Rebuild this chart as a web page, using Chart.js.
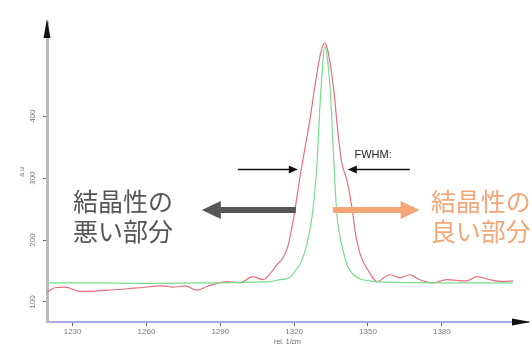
<!DOCTYPE html>
<html>
<head>
<meta charset="utf-8">
<script src="https://cdn.jsdelivr.net/npm/chart.js@4"></script>
<style>
  body { margin: 0; background: #fff; }
  canvas { display: block; }
</style>
</head>
<body>
<canvas id="ramanChart" width="532" height="354"></canvas>
<script>
// Raman shift (rel. 1/cm) and intensity (a.u)
const redShift  = [1219.6, 1222.8, 1226.9, 1233.0, 1243.9, 1251.2, 1257.3, 1266.7, 1270.7, 1275.6, 1280.5, 1284.5, 1292.7, 1298.0, 1303.2, 1307.3, 1310.1, 1313.0, 1315.4, 1317.4, 1319.0, 1320.3, 1322.3, 1323.9, 1326.4, 1328.8, 1330.8, 1332.4, 1333.6, 1336.1, 1337.7, 1339.3, 1341.4, 1342.6, 1343.8, 1345.0, 1346.7, 1348.7, 1350.7, 1353.6, 1358.8, 1362.9, 1367.0, 1371.0, 1376.3, 1382.0, 1390.1, 1394.2, 1399.5, 1404.8, 1408.9];
const redCounts = [116, 123, 124, 117, 119, 121, 123, 126, 124, 126, 119, 125, 133, 131, 141, 136, 145, 160, 171, 189, 219, 248, 300, 337, 394, 458, 502, 518, 507, 442, 377, 326, 297, 273, 244, 208, 179, 160, 147, 133, 144, 139, 144, 136, 131, 136, 134, 141, 136, 133, 134];

const greenShift  = [1219.6, 1240.0, 1260.0, 1281.8, 1289.9, 1302.0, 1310.1, 1314.2, 1318.3, 1320.7, 1322.3, 1324.3, 1326.0, 1327.6, 1328.8, 1329.6, 1330.4, 1331.3, 1332.4, 1333.6, 1334.9, 1335.7, 1336.5, 1337.3, 1338.5, 1339.8, 1341.8, 1345.5, 1350.7, 1358.8, 1380.0, 1400.0, 1408.9];
const greenCounts = [131, 131, 130, 131, 131, 132, 133, 136, 140, 152, 160, 181, 208, 248, 297, 345, 410, 466, 513, 490, 426, 361, 297, 244, 208, 184, 157, 140, 134, 132, 131, 131, 131];

const xTicks = [1230, 1260, 1290, 1320, 1350, 1380];
const yTicks = [100, 200, 300, 400];

const toPoints = (xs, ys) => xs.map((v, i) => ({ x: v, y: ys[i] }));

// arrows, text and axis heads drawn on top of the chart
const overlay = {
    id: 'overlay',
    afterDraw(chart) {
        const ctx = chart.ctx;
        const a = chart.chartArea;
        const x = chart.scales.x;
        const y = chart.scales.y;
        ctx.save();

        // axis arrow heads
        ctx.fillStyle = '#111';
        ctx.beginPath();
        ctx.moveTo(a.left, a.top - 3);
        ctx.lineTo(a.left - 3.5, a.top + 16);
        ctx.lineTo(a.left + 3.5, a.top + 16);
        ctx.fill();
        ctx.beginPath();
        ctx.moveTo(a.right + 3, a.bottom);
        ctx.lineTo(a.right - 16, a.bottom - 3.5);
        ctx.lineTo(a.right - 16, a.bottom + 3.5);
        ctx.fill();

        function arrow(x0, x1, yv, color, width, head, headW) {
            const px0 = x.getPixelForValue(x0);
            const px1 = x.getPixelForValue(x1);
            const py = y.getPixelForValue(yv);
            const dir = px1 > px0 ? 1 : -1;
            ctx.strokeStyle = color;
            ctx.fillStyle = color;
            ctx.lineWidth = width;
            ctx.beginPath();
            ctx.moveTo(px0, py);
            ctx.lineTo(px1 - dir * head * 0.8, py);
            ctx.stroke();
            ctx.beginPath();
            ctx.moveTo(px1, py);
            ctx.lineTo(px1 - dir * head, py - headW);
            ctx.lineTo(px1 - dir * head, py + headW);
            ctx.closePath();
            ctx.fill();
        }

        // FWHM markers
        arrow(1297.1, 1321.5, 314, '#111', 1.5, 9, 4);
        arrow(1367.0, 1341.8, 314, '#111', 1.5, 9, 4);
        ctx.fillStyle = '#222';
        ctx.font = '11px "Liberation Sans", Arial, sans-serif';
        ctx.textBaseline = 'middle';
        ctx.textAlign = 'left';
        ctx.fillText('FWHM:', x.getPixelForValue(1344.5), y.getPixelForValue(337));

        // crystallinity arrows
        arrow(1320.7, 1282.5, 248.4, '#575757', 6, 19, 9);
        arrow(1335.7, 1371.0, 248.4, '#f4a676', 6, 19, 9);

        ctx.font = '25px "Noto Sans CJK JP", sans-serif';
        ctx.fillStyle = '#555555';
        ctx.fillText('結晶性の', x.getPixelForValue(1230.2), y.getPixelForValue(263));
        ctx.fillText('悪い部分', x.getPixelForValue(1230.2), y.getPixelForValue(213));
        ctx.fillStyle = '#f4a676';
        ctx.fillText('結晶性の', x.getPixelForValue(1375.5), y.getPixelForValue(263));
        ctx.fillText('良い部分', x.getPixelForValue(1375.5), y.getPixelForValue(213));
        ctx.restore();
    }
};

const ctx = document.getElementById('ramanChart').getContext('2d');
const ramanChart = new Chart(ctx, {
    type: 'line',
    data: {
        datasets: [{
            label: 'green',
            data: toPoints(greenShift, greenCounts),
            borderColor: 'rgb(120, 220, 140)',
            borderWidth: 1.2,
            pointRadius: 0,
            fill: false,
            cubicInterpolationMode: 'monotone'
        }, {
            label: 'red',
            data: toPoints(redShift, redCounts),
            borderColor: 'rgb(232, 110, 125)',
            borderWidth: 1.2,
            pointRadius: 0,
            fill: false,
            cubicInterpolationMode: 'monotone'
        }]
    },
    options: {
        responsive: false,
        animation: false,
        layout: { padding: { top: 22, right: 4, left: 0, bottom: 0 } },
        plugins: {
            legend: { display: false },
            tooltip: { enabled: false }
        },
        scales: {
            x: {
                type: 'linear',
                min: 1219.6,
                max: 1415,
                afterFit: function (scale) { scale.height = 32; },
                afterBuildTicks: function (scale) { scale.ticks = xTicks.map(v => ({ value: v })); },
                border: { color: '#a9a9e6', width: 2 },
                grid: { drawOnChartArea: false, tickLength: 4, color: '#666' },
                ticks: {
                    color: '#777',
                    font: { size: 8, family: '"Liberation Sans", Arial, sans-serif' },
                    padding: 1,
                    maxRotation: 0,
                    autoSkip: false,
                    callback: v => String(v)
                },
                title: {
                    display: true,
                    text: 'rel. 1/cm',
                    color: '#666',
                    font: { size: 7, family: '"Liberation Sans", Arial, sans-serif' },
                    padding: { top: 0, bottom: 8 }
                }
            },
            y: {
                min: 67.7,
                max: 552,
                afterFit: function (scale) { scale.width = 47; },
                afterBuildTicks: function (scale) { scale.ticks = yTicks.map(v => ({ value: v })); },
                border: { color: '#b9b9b9', width: 3 },
                grid: { drawOnChartArea: false, tickLength: 4, color: '#666' },
                ticks: {
                    color: '#777',
                    font: { size: 8, family: '"Liberation Sans", Arial, sans-serif' },
                    padding: 4,
                    minRotation: 90,
                    maxRotation: 90,
                    crossAlign: 'center',
                    autoSkip: false,
                    callback: v => String(v)
                },
                title: {
                    display: true,
                    text: 'a.u',
                    color: '#777',
                    font: { size: 7, family: '"Liberation Sans", Arial, sans-serif' },
                    padding: { top: 18, bottom: 0 }
                }
            }
        }
    },
    plugins: [overlay]
});
</script>
</body>
</html>
